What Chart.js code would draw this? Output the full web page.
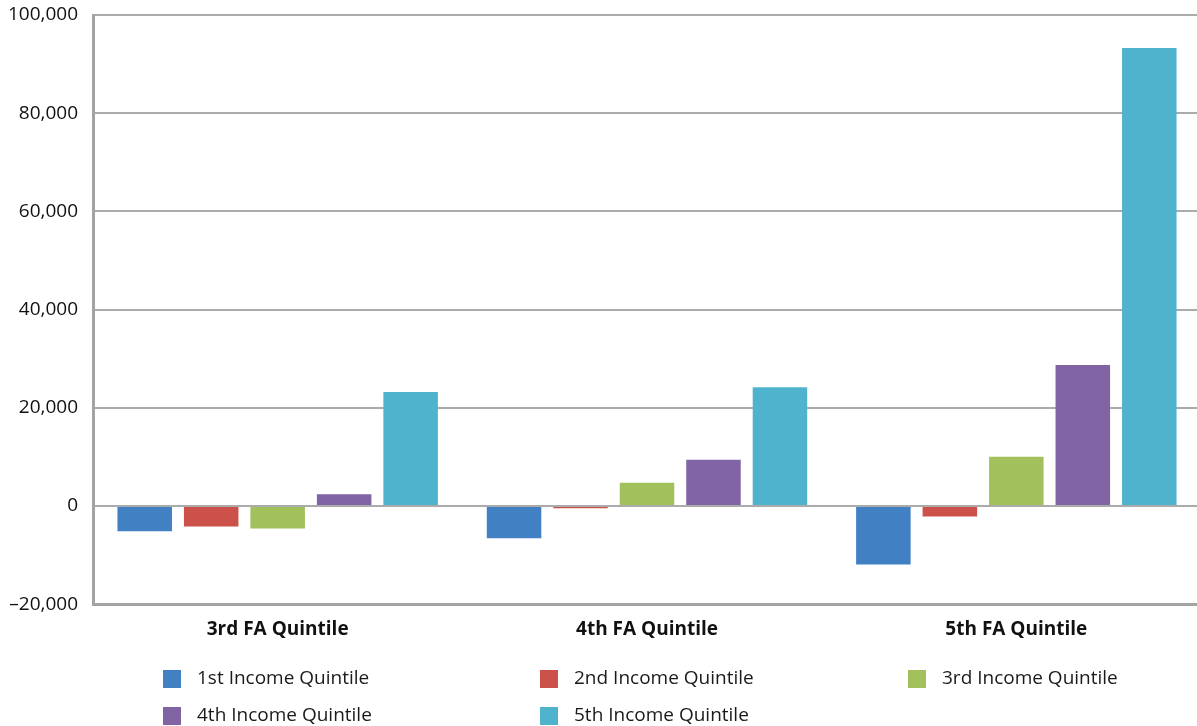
<!DOCTYPE html>
<html>
<head>
<meta charset="utf-8">
<script src="https://cdn.jsdelivr.net/npm/chart.js@4/dist/chart.umd.min.js"></script>
<style>
  html, body { margin: 0; padding: 0; background: #fff; overflow: hidden; }
  #wrap { position: relative; width: 1197px; height: 726px; overflow: hidden; }
  #c { display: block; }
</style>
</head>
<body>
<div id="wrap"><canvas id="c" width="1201" height="726"></canvas></div>
<script>
// Financial-asset quintile groups on the x axis
const categories = ['3rd FA Quintile', '4th FA Quintile', '5th FA Quintile'];

// One series per income quintile
const seriesNames = [
  '1st Income Quintile',
  '2nd Income Quintile',
  '3rd Income Quintile',
  '4th Income Quintile',
  '5th Income Quintile'
];
const income1 = [-5150, -6550, -11900];
const income2 = [-4200, -450, -2150];
const income3 = [-4600, 4750, 10050];
const income4 = [2400, 9400, 28700];
const income5 = [23200, 24200, 93300];

const yTicks = [-20000, 0, 20000, 40000, 60000, 80000, 100000];

const seriesValues = [income1, income2, income3, income4, income5];
const seriesColors = ['#4180c2', '#cb514a', '#a2c15c', '#8064a3', '#50b3ce'];

const FONT = '"Open Sans", "DejaVu Sans", sans-serif';

function formatTick(v) {
  const s = Math.abs(v).toLocaleString('en-US');
  return v < 0 ? '\u2013' + s : s;
}

// Legend laid out as a three-column grid below the axis
const gridLegend = {
  id: 'gridLegend',
  afterDraw(chart) {
    const ctx = chart.ctx;
    const cols = [163, 540, 908];
    const rows = [679, 716];
    ctx.save();
    ctx.font = '19px ' + FONT;
    ctx.textBaseline = 'middle';
    ctx.textAlign = 'left';
    chart.data.datasets.forEach((ds, i) => {
      const x = cols[i % 3];
      const y = rows[Math.floor(i / 3)];
      ctx.fillStyle = ds.backgroundColor;
      ctx.fillRect(x, y - 9, 18, 18);
      ctx.fillStyle = '#1a1a1a';
      ctx.fillText(ds.label, x + 34, y);
    });
    ctx.restore();
  }
};

new Chart(document.getElementById('c'), {
  type: 'bar',
  data: {
    labels: categories,
    datasets: seriesNames.map((name, i) => ({
      label: name,
      data: seriesValues[i],
      backgroundColor: seriesColors[i],
      borderWidth: 0,
      categoryPercentage: 0.9,
      barPercentage: 0.82
    }))
  },
  options: {
    responsive: false,
    animation: false,
    devicePixelRatio: 1,
    layout: { padding: { top: 15, left: 0, right: 0, bottom: 71 } },
    plugins: {
      legend: { display: false },
      tooltip: { enabled: false }
    },
    scales: {
      x: {
        grid: { display: false, drawTicks: false },
        border: { color: '#a3a3a3', width: 3 },
        ticks: {
          color: '#111',
          padding: 14,
          font: { family: FONT, size: 19, weight: 'bold' }
        },
        afterFit(scale) {
          scale.paddingLeft = 0;
          scale.paddingRight = 0;
        }
      },
      y: {
        min: -20000,
        max: 100000,
        afterBuildTicks(scale) {
          scale.ticks = yTicks.map(v => ({ value: v }));
        },
        afterFit(scale) {
          scale.width = 93;
          scale.paddingTop = 0;
          scale.paddingBottom = 0;
        },
        grid: { color: '#ababab', lineWidth: 2, drawTicks: false },
        border: { color: '#a3a3a3', width: 3 },
        ticks: {
          color: '#111',
          padding: 15,
          font: { family: FONT, size: 19 },
          callback: formatTick
        }
      }
    }
  },
  plugins: [gridLegend]
});
</script>
</body>
</html>
